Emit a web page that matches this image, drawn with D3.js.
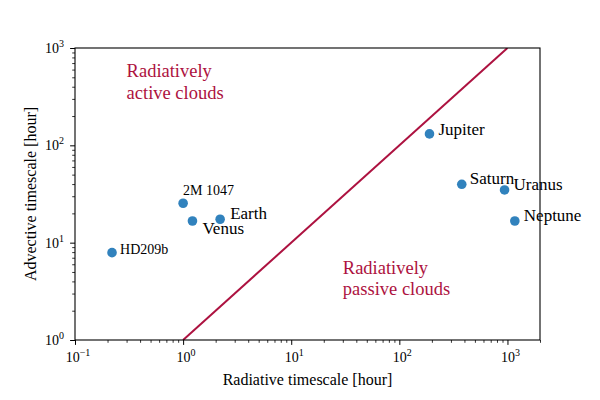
<!DOCTYPE html>
<html>
<head>
<meta charset="utf-8">
<script src="https://cdn.jsdelivr.net/npm/d3@7"></script>
<style>
  body { margin: 0; background: #fff; }
  svg { display: block; }
</style>
</head>
<body>
<svg id="chart" width="600" height="400"></svg>
<script>
// data
var names = ["HD209b", "2M 1047", "Venus", "Earth", "Jupiter", "Saturn", "Uranus", "Neptune"];
var radiative = [0.22, 1.0, 1.22, 2.2, 190, 378, 940, 1170];   // hour
var advective = [7.9, 25.4, 16.7, 17.4, 131, 39.8, 34.8, 16.7]; // hour
var boundaryX = [1, 1000];   // tau_adv = tau_rad
var xDecades = [-1, 0, 1, 2, 3];
var yDecades = [0, 1, 2, 3];

// label placement (pixel offsets from each dot) and size
var labelStyle = {
	"HD209b":  { dx: 8,  dy: 1,  size: 14 },
	"2M 1047": { dx: 0,  dy: -8, size: 14 },
	"Venus":   { dx: 10, dy: 13, size: 17 },
	"Earth":   { dx: 10, dy: 0,  size: 17 },
	"Jupiter": { dx: 9,  dy: 1,  size: 17 },
	"Saturn":  { dx: 8,  dy: 0,  size: 17 },
	"Uranus":  { dx: 9,  dy: 0,  size: 17 },
	"Neptune": { dx: 9,  dy: 0,  size: 17 }
};

var red = "#ad1240";
var blue = "#3182bd";
var serif = "'Liberation Serif', 'DejaVu Serif', 'Times New Roman', Times, serif";

var svg = d3.select("#chart")
	.attr("font-family", serif)
	.style("font-family", serif);
var width = +svg.attr("width");
var height = +svg.attr("height");
var margin = { top: 48, right: 60, bottom: 60, left: 75 };
var plotW = width - margin.left - margin.right;
var plotH = height - margin.top - margin.bottom;

var x = d3.scaleLog().domain([0.1, 2000]).range([0, plotW]);
var y = d3.scaleLog().domain([1, 1000]).range([plotH, 0]);

var g = svg.append("g")
	.attr("transform", "translate(" + margin.left + "," + margin.top + ")");

// minor ticks: 2..9 in every decade inside the domain
function minorTicks(scale) {
	var d = scale.domain(), out = [];
	for (var e = Math.floor(Math.log10(d[0])); e <= Math.ceil(Math.log10(d[1])); e++) {
		for (var k = 2; k <= 9; k++) {
			var v = k * Math.pow(10, e);
			if (v >= d[0] && v <= d[1] * 1.0001) out.push(v);
		}
	}
	return out;
}

var xMajor = xDecades.map(function(e) { return Math.pow(10, e); });
var yMajor = yDecades.map(function(e) { return Math.pow(10, e); });

function plainTicks(s, w) {
	s.select(".domain").remove();
	s.selectAll("line").attr("stroke-width", w);
}

// x axis
g.append("g").attr("transform", "translate(0," + plotH + ")")
	.call(d3.axisBottom(x).tickValues(minorTicks(x)).tickSize(2.8).tickFormat(""))
	.call(plainTicks, 0.8);
g.append("g").attr("transform", "translate(0," + plotH + ")")
	.call(d3.axisBottom(x).tickValues(xMajor).tickSize(4.9).tickFormat(""))
	.call(plainTicks, 1);

// y axis
g.append("g")
	.call(d3.axisLeft(y).tickValues(minorTicks(y)).tickSize(2.8).tickFormat(""))
	.call(plainTicks, 0.8);
g.append("g")
	.call(d3.axisLeft(y).tickValues(yMajor).tickSize(4.9).tickFormat(""))
	.call(plainTicks, 1);

// power-of-ten tick labels
function powLabel(sel, e) {
	sel.append("tspan").attr("font-size", 14).text("10");
	sel.append("tspan").attr("font-size", 10).attr("dy", -6)
		.text(e < 0 ? "\u2212" + (-e) : e);
}

g.selectAll(".xlab").data(xDecades).enter().append("text")
	.attr("class", "xlab")
	.attr("x", function(e) { return x(Math.pow(10, e)) + 3; })
	.attr("y", plotH + 22)
	.attr("text-anchor", "middle")
	.each(function(e) { powLabel(d3.select(this), e); });

g.selectAll(".ylab").data(yDecades).enter().append("text")
	.attr("class", "ylab")
	.attr("x", -11)
	.attr("y", function(e) { return y(Math.pow(10, e)) + 5; })
	.attr("text-anchor", "end")
	.each(function(e) { powLabel(d3.select(this), e); });

// axis titles
g.append("text")
	.attr("x", plotW / 2)
	.attr("y", plotH + 45)
	.attr("text-anchor", "middle")
	.attr("font-size", 16)
	.text("Radiative timescale [hour]");

g.append("text")
	.attr("transform", "translate(" + (-39) + "," + (plotH / 2) + ") rotate(-90)")
	.attr("text-anchor", "middle")
	.attr("font-size", 16)
	.text("Advective timescale [hour]");

// clip for the boundary line
g.append("clipPath").attr("id", "plot-clip")
	.append("rect").attr("width", plotW).attr("height", plotH);

g.append("path")
	.datum(boundaryX)
	.attr("clip-path", "url(#plot-clip)")
	.attr("fill", "none")
	.attr("stroke", red)
	.attr("stroke-width", 2)
	.attr("d", d3.line().x(function(d) { return x(d); }).y(function(d) { return y(d); }));

// frame
g.append("rect")
	.attr("width", plotW)
	.attr("height", plotH)
	.attr("fill", "none")
	.attr("stroke", "#000")
	.attr("stroke-width", 1.1);

// regime annotations
var regions = [
	{ lines: ["Radiatively", "active clouds"], x: 0.3, y: 500 },
	{ lines: ["Radiatively", "passive clouds"], x: 30, y: 4.8 }
];
regions.forEach(function(r) {
	var t = g.append("text")
		.attr("x", x(r.x))
		.attr("y", y(r.y))
		.attr("fill", red)
		.attr("font-size", 18.5);
	r.lines.forEach(function(s, i) {
		t.append("tspan").attr("x", x(r.x)).attr("dy", i === 0 ? 0 : 21.5).text(s);
	});
});

// points
var points = names.map(function(n, i) { return { name: n, rx: radiative[i], ad: advective[i] }; });

g.selectAll(".dot").data(points).enter().append("circle")
	.attr("class", "dot")
	.attr("cx", function(d) { return x(d.rx); })
	.attr("cy", function(d) { return y(d.ad); })
	.attr("r", 4.8)
	.attr("fill", blue);

g.selectAll(".name").data(points).enter().append("text")
	.attr("class", "name")
	.attr("x", function(d) { return x(d.rx) + labelStyle[d.name].dx; })
	.attr("y", function(d) { return y(d.ad) + labelStyle[d.name].dy; })
	.attr("font-size", function(d) { return labelStyle[d.name].size; })
	.text(function(d) { return d.name; });
</script>
</body>
</html>
